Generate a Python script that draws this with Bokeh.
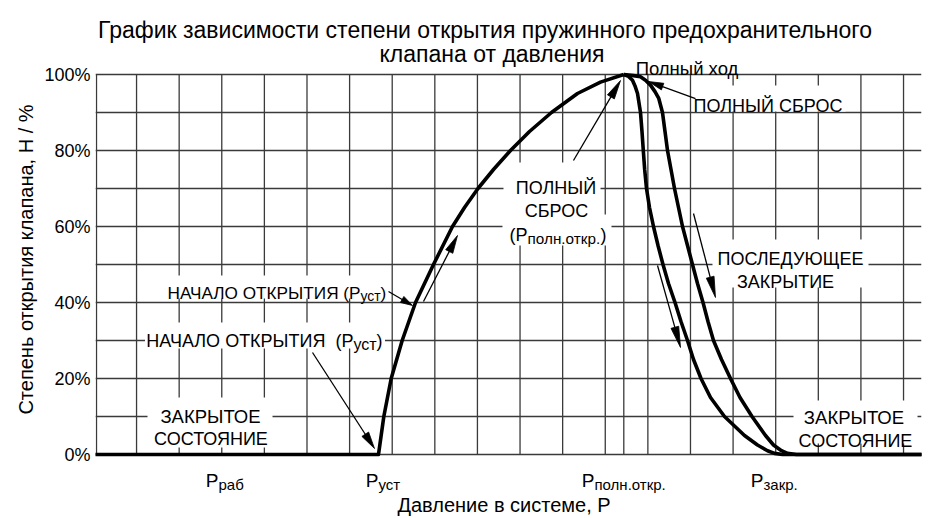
import math
from bokeh.plotting import figure
from bokeh.models import Range1d, FixedTicker, PrintfTickFormatter, Label
from bokeh.embed import file_html
from bokeh.resources import INLINE

FONT = "Liberation Sans"

# ---------------- data (pressure in grid-cell units, H in %) ----------------
open_p = [0.0, 6.678, 6.803, 6.976, 7.234, 7.547, 7.969, 8.415, 8.697, 9.013,
          9.377, 9.776, 10.222, 10.738, 11.348, 11.888, 12.435]
open_h = [0, 0, 10, 20, 30, 40, 50, 60, 65, 70, 75, 80, 85, 90, 95, 98, 100]

close_inner_p = [12.435, 12.545, 12.639, 12.698, 12.757, 12.827, 12.862, 12.893,
                 12.925, 12.968, 13.038, 13.132, 13.238, 13.355, 13.484, 13.637,
                 13.777, 13.930, 14.071, 14.247, 14.470, 14.798, 15.268, 15.573,
                 15.808, 15.972, 16.160, 19.6]
close_inner_h = [100, 99.5, 98.5, 97, 95, 90, 85, 80, 75, 70, 65, 60, 55, 50, 45,
                 40, 35, 30, 25, 20, 15, 10, 5, 2.5, 1, 0.3, 0, 0]

close_outer_p = [12.435, 12.663, 12.827, 12.944, 13.062, 13.167, 13.256, 13.343,
                 13.402, 13.461, 13.543, 13.625, 13.719, 13.813, 13.930, 14.047,
                 14.165, 14.294, 14.411, 14.540, 14.728, 14.939, 15.162, 15.444,
                 15.761, 15.948, 16.136, 16.277, 16.488, 19.6]
close_outer_h = [100, 99.7, 99.4, 98.5, 97.2, 95.5, 93.7, 90, 85, 80, 75, 70, 65,
                 60, 55, 50, 45, 40, 35, 30, 25, 20, 15, 10, 5, 2.5, 1, 0.3, 0, 0]

y_ticks = [0, 20, 40, 60, 80, 100]
y_grid = list(range(0, 101, 10))
x_grid = [0.06] + list(range(1, 20)) + [12.435]

x_tick_pos = [2.923, 6.678, 11.747, 15.713]
x_tick_main = ["Р", "Р", "Р", "Р"]
x_tick_sub = ["раб", "уст", "полн.откр.", "закр."]

# ---------------- figure ----------------
W, H = 950, 518
ML, MR, MT, MB = 95, 29, 0, 0
X0, X1 = 0.0365, 19.4217
Y0, Y1 = -16.842, 119.474

p = figure(width=W, height=H, x_range=Range1d(X0, X1), y_range=Range1d(Y0, Y1),
           output_backend="svg", toolbar_location=None, x_axis_location=None,
           min_border_left=ML, min_border_right=MR, min_border_top=MT,
           min_border_bottom=MB)
p.outline_line_color = None
p.background_fill_color = "white"
p.border_fill_color = "white"

GRID = "#3a3a3a"
p.xgrid.visible = False
p.ygrid.ticker = FixedTicker(ticks=y_grid)
p.ygrid.grid_line_color = GRID
p.ygrid.grid_line_width = 1.3

ax = p.yaxis[0]
ax.ticker = FixedTicker(ticks=y_ticks)
ax.formatter = PrintfTickFormatter(format="%d%%")
ax.major_tick_line_color = None
ax.minor_tick_line_color = None
ax.major_tick_out = 0
ax.major_tick_in = 0
ax.major_label_standoff = 5
ax.axis_line_color = None
ax.major_label_text_font = FONT
ax.major_label_text_font_size = "18px"
ax.major_label_text_color = "black"
ax.axis_label = "Степень открытия клапана, Н / %"
ax.axis_label_text_font = FONT
ax.axis_label_text_font_size = "20px"
ax.axis_label_text_font_style = "normal"
ax.axis_label_text_color = "black"
ax.axis_label_standoff = 4

SX = (W - ML - MR) / (X1 - X0)
SY = (H - MT - MB) / (Y1 - Y0)

# vertical grid lines (only inside the 0..100 % band)
p.segment(x0=x_grid, y0=[0] * len(x_grid), x1=x_grid, y1=[100] * len(x_grid),
          line_color=GRID, line_width=1.3)

# white boxes behind annotation texts (centre in data, size in px)
boxes = dict(
    x=[2.724, 4.014, 4.296, 10.750, 10.867, 15.843, 16.347, 17.873],
    y=[8.42, 31.32, 44.08, 69.74, 59.08, 93.68, 50.26, 8.55],
    w=[125, 240, 224, 97, 109, 153, 156, 124],
    h=[50, 26, 23, 54, 31, 26, 48, 43],
)
p.rect(x=boxes["x"], y=boxes["y"], width=boxes["w"], height=boxes["h"],
       width_units="screen", height_units="screen", fill_color="white",
       line_color=None)

# curves
LW = 3.6
for xs, ys in ((open_p, open_h), (close_inner_p, close_inner_h),
               (close_outer_p, close_outer_h)):
    p.line(xs, ys, line_color="black", line_width=LW, line_join="round")

# arrows
seg = dict(x0=[], y0=[], x1=[], y1=[])
tri_x, tri_y = [], []


def arrow(x0, y0, x1, y1, head=18, hw=8):
    dx, dy = (x1 - x0) * SX, (y1 - y0) * SY
    L = math.hypot(dx, dy)
    ux, uy = dx / L, dy / L
    bx, by = x1 - ux * head / SX, y1 - uy * head / SY
    nx, ny = -uy, ux
    seg["x0"].append(x0); seg["y0"].append(y0)
    seg["x1"].append(bx + ux * 3 / SX); seg["y1"].append(by + uy * 3 / SY)
    tri_x.append([x1, bx + nx * hw / 2 / SX, bx - nx * hw / 2 / SX])
    tri_y.append([y1, by + ny * hw / 2 / SY, by - ny * hw / 2 / SY])


arrow(5.129, 26.84, 6.584, 1.58, head=17)
arrow(6.913, 42.89, 7.476, 39.21, head=12, hw=7)
arrow(7.734, 40.26, 8.532, 57.63, head=18)
arrow(11.254, 77.37, 12.358, 98.42, head=19)
arrow(14.118, 93.68, 13.015, 98.16, head=15, hw=7)
arrow(14.071, 63.42, 14.587, 41.32, head=21)
arrow(13.226, 49.74, 13.766, 28.16, head=21)

p.segment(x0=seg["x0"], y0=seg["y0"], x1=seg["x1"], y1=seg["y1"],
          line_color="black", line_width=1.3)
p.patches(tri_x, tri_y, fill_color="black", line_color="black", line_width=0.8)


def label(x, y, text, size="18px", align="center", **kw):
    p.add_layout(Label(x=x, y=y, text=text, text_font=FONT, text_font_size=size,
                       text_align=align, text_baseline="alphabetic",
                       text_color="black", **kw))


# title
label(9.178, 111.71, "График зависимости степени открытия пружинного предохранительного", size="23px")
label(9.342, 105.39, "клапана от давления", size="23px")

# x axis title
label(9.624, -13.42, "Давление в системе, Р", size="20px")

# x tick labels (P with subscript)
for xp, m, s in zip(x_tick_pos, x_tick_main, x_tick_sub):
    label(xp, -6.84, m, size="19px", align="right")
    label(xp, -7.89, s, size="15px", align="left")

# annotations
label(2.735, 10.0, "ЗАКРЫТОЕ", size="18.5px")
label(2.747, 4.21, "СОСТОЯНИЕ")

label(6.091, 30.0, "НАЧАЛО ОТКРЫТИЯ\u00a0 (Р", align="right")
label(6.091, 28.95, "уст", size="16px", align="left")
label(6.631, 30.0, ")", align="left")

label(6.256, 42.63, "НАЧАЛО ОТКРЫТИЯ (Р", size="17.2px", align="right")
label(6.256, 41.58, "уст", size="14px", align="left")
label(6.725, 42.63, ")", size="17.2px", align="left")

label(10.844, 70.26, "ПОЛНЫЙ")
label(10.856, 64.21, "СБРОС")
label(10.175, 57.89, "(Р", align="right")
label(10.175, 56.84, "полн.откр.", size="15.3px", align="left")
label(11.888, 57.89, ")", align="left")

label(15.819, 91.6, "ПОЛНЫЙ СБРОС")
label(16.347, 51.45, "ПОСЛЕДУЮЩЕЕ")
label(16.230, 45.39, "ЗАКРЫТИЕ")
label(17.837, 9.74, "ЗАКРЫТОЕ", size="18.5px")
label(17.872, 3.68, "СОСТОЯНИЕ")
label(13.918, 101.71, "Полный ход", size="18.5px")

open("out.html", "w").write(file_html(p, INLINE))
